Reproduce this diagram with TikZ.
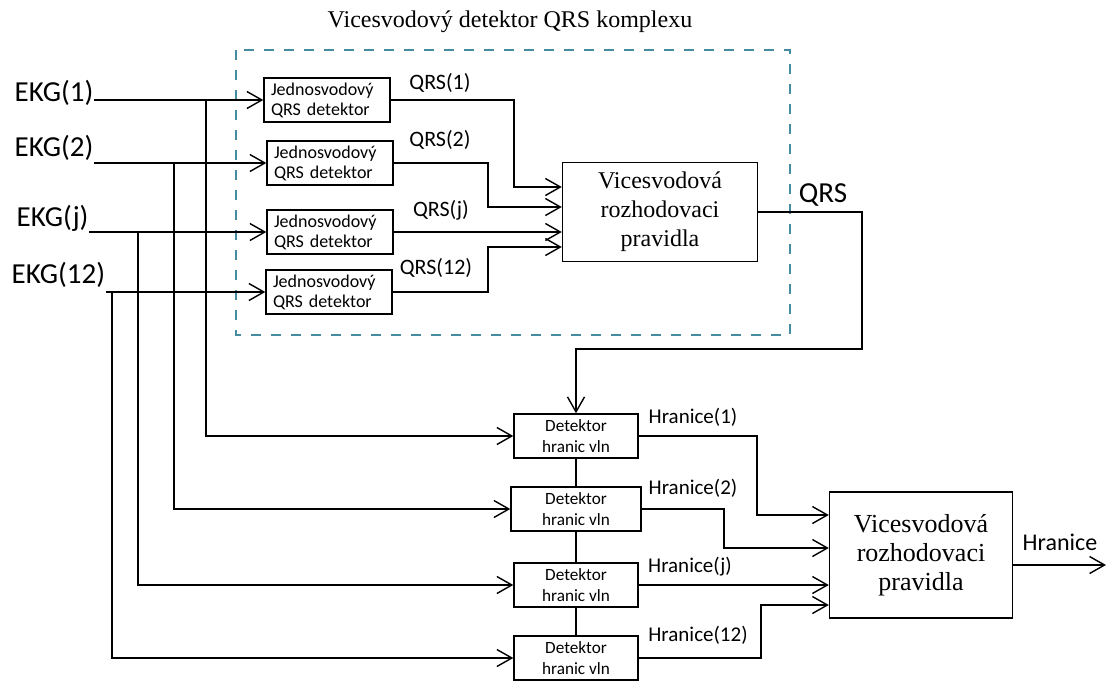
\documentclass[tikz,border=0pt]{standalone}
\usepackage{fontspec}
\setmainfont{Carlito}
\newfontfamily\timesfont{Liberation Serif}
\usetikzlibrary{arrows.meta, positioning}
\definecolor{frameteal}{RGB}{70,140,160}

\begin{document}
\begin{tikzpicture}[
  x=0.5pt, y=-0.5pt,
  line width=0.7pt,
  >={Straight Barb[length=7.5pt,width=8.5pt]},
  arrow/.style={->},
  lead/.style={font=\fontsize{14.5}{16}\selectfont, inner sep=0pt, anchor=west},
  sig/.style={font=\fontsize{11}{13}\selectfont, inner sep=0pt},
  hsig/.style={font=\fontsize{10.5}{12}\selectfont, inner sep=0pt},
  qrsbox/.style={draw, align=left, text width=56pt, inner xsep=3.5pt, inner ysep=1.5pt,
    minimum height=22pt, font=\fontsize{9}{10}\selectfont},
  wavebox/.style={draw, align=center, minimum width=62pt, minimum height=22pt,
    inner sep=1pt, font=\fontsize{8.6}{10.5}\selectfont},
  rulebox/.style={draw, align=center}
]
  \useasboundingbox (0,0) rectangle (1109,681);

  % Frame of the multi-lead detector
  \node[font=\timesfont\fontsize{12}{14}\selectfont] (title) at (510,22) {Vicesvodový detektor QRS komplexu};
  \draw[frameteal, dash pattern=on 5pt off 5pt, line width=0.6pt] (236,50) rectangle (790,335);

  % Leads
  \node[lead] (ekg1) at (14,93) {EKG(1)};
  \node[lead] (ekg2) at (14,148) {EKG(2)};
  \node[lead] (ekgj) at (16,218) {EKG(j)};
  \node[lead] (ekg12) at (11,275) {EKG(12)};

  % Single-lead QRS detectors
  \node[qrsbox] (j1) at (327,100) {Jednosvodový\\QRS detektor};
  \node[qrsbox] (j2) at (330,163) {Jednosvodový\\QRS detektor};
  \node[qrsbox] (j3) at (330,232) {Jednosvodový\\QRS detektor};
  \node[qrsbox] (j4) at (329,292) {Jednosvodový\\QRS detektor};

  \node[sig] (q1) at (440,83) {QRS(1)};
  \node[sig] (q2) at (440,140) {QRS(2)};
  \node[sig] (qj) at (441,210) {QRS(j)};
  \node[sig] (q12) at (436,268) {QRS(12)};

  % Decision rules for QRS
  \node[rulebox, font=\timesfont\fontsize{12}{14.5}\selectfont,
    minimum width=97.5pt, minimum height=49.5pt] (rq) at (660,212) {Vicesvodová\\rozhodovaci\\pravidla};
  \node[font=\fontsize{14.5}{16}\selectfont, inner sep=0pt] (qrs) at (823,195) {QRS};

  % Wave boundary detectors
  \node[wavebox] (d1) at (576,436) {Detektor\\hranic vln};
  \node[wavebox, minimum width=65pt] (d2) at (576,509) {Detektor\\hranic vln};
  \node[wavebox] (dj) at (576,585) {Detektor\\hranic vln};
  \node[wavebox] (d12) at (576,658) {Detektor\\hranic vln};

  \node[hsig] (h1) at (693,417) {Hranice(1)};
  \node[hsig] (h2) at (693,488) {Hranice(2)};
  \node[hsig] (hj) at (690,567) {Hranice(j)};
  \node[hsig] (h12) at (698,635) {Hranice(12)};

  % Decision rules for boundaries
  \node[rulebox, font=\timesfont\fontsize{13}{14.5}\selectfont,
    minimum width=91.5pt, minimum height=63pt] (rh) at (921,555) {Vicesvodová\\rozhodovaci\\pravidla};
  \node[font=\fontsize{12}{14}\selectfont, inner sep=0pt] (hr) at (1060,542) {Hranice};

  % Taps on the lead lines
  \coordinate (tap1) at (j1 -| 206,0);
  \coordinate (tap2) at (j2 -| 174,0);
  \coordinate (tapj) at (j3 -| 138,0);
  \coordinate (tap12) at (j4 -| 112,0);
  \coordinate (qturn) at (862,349);
  \coordinate (hout) at (1106,565);

  % Arrows
  \draw[arrow] (ekg1.east |- j1) -- (j1);
  \draw[arrow] (ekg2.east |- j2) -- (j2);
  \draw[arrow] (ekgj.east |- j3) -- (j3);
  \draw[arrow] (ekg12.east |- j4) -- (j4);

  \draw[arrow] (tap1) |- (d1);
  \draw[arrow] (tap2) |- (d2);
  \draw[arrow] (tapj) |- (dj);
  \draw[arrow] (tap12) |- (d12);

  \draw[arrow] (j1.east) -| (514,187) -- (rq.west |- 0,187);
  \draw[arrow] (j2.east) -| (488,207) -- (rq.west |- 0,207);
  \draw[arrow] (j3.east) -- (rq.west |- j3.east);
  \draw[arrow] (j4.east) -| (488,247) -- (rq.west |- 0,247);

  \draw[arrow] (rq.east) -| (qturn) -| (d1.north);
  \draw (d1) -- (d2);
  \draw (d2) -- (dj);
  \draw (dj) -- (d12);

  \draw[arrow] (d1.east) -| (757,515) -- (rh.west |- 0,515);
  \draw[arrow] (d2.east) -| (724,548) -- (rh.west |- 0,548);
  \draw[arrow] (dj.east) -- (rh.west |- dj.east);
  \draw[arrow] (d12.east) -| (761,605) -- (rh.west |- 0,605);
  \draw[arrow] (rh.east |- hout) -- (hout);
\end{tikzpicture}
\end{document}
